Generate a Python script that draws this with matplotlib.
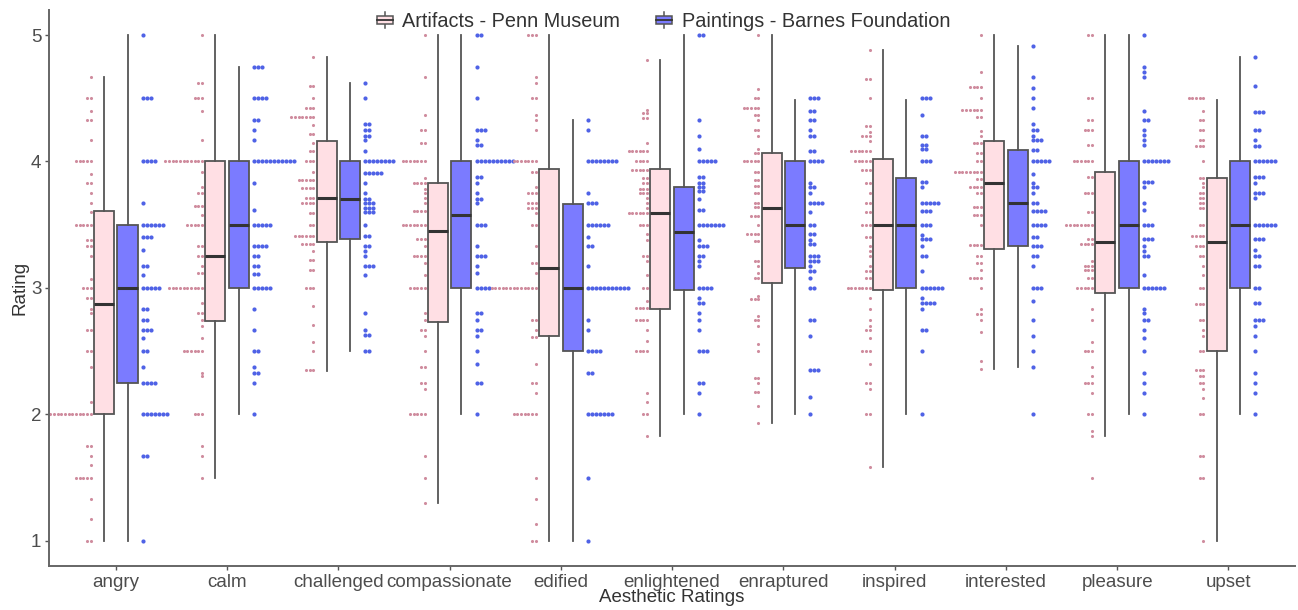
import matplotlib
matplotlib.use("Agg")
import matplotlib.pyplot as plt
from matplotlib.patches import Patch, Rectangle
from matplotlib.lines import Line2D
from matplotlib.legend_handler import HandlerBase
import numpy as np

plt.rcParams['font.family'] = ['Liberation Sans', 'DejaVu Sans']

categories = ["angry", "calm", "challenged", "compassionate", "edified", "enlightened",
              "enraptured", "inspired", "interested", "pleasure", "upset"]

# box stats: (whisker low, q1, median, q3, whisker high)
art_lo = [1.0, 1.5, 2.34, 1.30, 1.0, 1.83, 1.93, 1.58, 2.36, 1.83, 1.0]
art_q1 = [2.0, 2.74, 3.36, 2.73, 2.62, 2.83, 3.04, 2.98, 3.31, 2.96, 2.5]
art_med = [2.875, 3.25, 3.71, 3.45, 3.16, 3.59, 3.63, 3.5, 3.83, 3.36, 3.36]
art_q3 = [3.61, 4.0, 4.16, 3.83, 3.94, 3.94, 4.07, 4.02, 4.16, 3.92, 3.87]
art_hi = [4.67, 5.0, 4.83, 5.0, 5.0, 4.80, 5.0, 4.88, 5.0, 5.0, 4.49]

pnt_lo = [1.0, 2.0, 2.5, 2.0, 1.0, 2.0, 2.0, 2.0, 2.375, 2.0, 2.0]
pnt_q1 = [2.25, 3.0, 3.39, 3.0, 2.5, 2.98, 3.16, 3.0, 3.33, 3.0, 3.0]
pnt_med = [3.0, 3.5, 3.70, 3.58, 3.0, 3.44, 3.5, 3.5, 3.67, 3.5, 3.5]
pnt_q3 = [3.5, 4.0, 4.0, 4.0, 3.66, 3.80, 4.0, 3.87, 4.09, 4.0, 4.0]
pnt_hi = [5.0, 4.75, 4.62, 5.0, 4.33, 5.0, 4.49, 4.49, 4.91, 5.0, 4.83]

# dot stacks: (rating, count)
art_dots = {
    "angry": [(4.67, 1), (4.5, 2), (4.4, 1), (4.33, 2), (4.17, 1), (4.0, 5), (3.9, 1), (3.83, 2),
              (3.75, 1), (3.67, 1), (3.6, 1), (3.5, 5), (3.38, 2), (3.33, 2), (3.25, 1), (3.07, 1),
              (3.0, 3), (2.92, 2), (2.83, 1), (2.8, 1), (2.67, 2), (2.5, 2), (2.375, 1), (2.1, 1),
              (2.0, 12), (1.75, 2), (1.67, 1), (1.6, 1), (1.5, 5), (1.33, 1), (1.17, 1), (1.0, 2)],
    "calm": [(5.0, 1), (4.62, 2), (4.5, 3), (4.4, 1), (4.17, 1), (4.0, 11), (3.92, 1), (3.8, 1),
             (3.75, 2), (3.65, 3), (3.58, 1), (3.5, 5), (3.33, 2), (3.25, 2), (3.17, 1), (3.12, 2),
             (3.0, 10), (2.88, 1), (2.8, 2), (2.75, 1), (2.7, 1), (2.6, 1), (2.5, 6), (2.33, 1),
             (2.3, 1), (2.0, 3), (1.75, 1), (1.67, 1), (1.5, 1)],
    "challenged": [(4.83, 1), (4.6, 2), (4.5, 1), (4.42, 3), (4.35, 7), (4.29, 1), (4.22, 2),
                   (4.15, 1), (4.08, 2), (4.0, 3), (3.92, 1), (3.85, 5), (3.79, 4), (3.71, 3),
                   (3.67, 4), (3.59, 2), (3.5, 2), (3.41, 6), (3.35, 4), (3.29, 1), (3.22, 2),
                   (3.14, 2), (3.0, 3), (2.86, 1), (2.71, 1), (2.57, 1), (2.5, 1), (2.35, 3)],
    "compassionate": [(5.0, 1), (4.67, 1), (4.37, 1), (4.25, 2), (4.15, 2), (4.0, 7), (3.87, 1),
                      (3.83, 4), (3.78, 1), (3.75, 1), (3.71, 1), (3.67, 1), (3.61, 4), (3.5, 7),
                      (3.39, 3), (3.33, 1), (3.25, 4), (3.2, 1), (3.1, 1), (3.0, 5), (2.8, 1),
                      (2.75, 1), (2.67, 2), (2.62, 1), (2.5, 1), (2.375, 2), (2.25, 2), (2.2, 1),
                      (2.0, 5), (1.67, 1), (1.5, 1), (1.3, 1)],
    "edified": [(5.0, 3), (4.67, 1), (4.62, 1), (4.5, 2), (4.37, 1), (4.33, 1), (4.25, 1),
                (4.0, 7), (3.92, 2), (3.8, 1), (3.75, 3), (3.67, 3), (3.63, 3), (3.59, 1),
                (3.5, 2), (3.33, 1), (3.2, 2), (3.12, 1), (3.0, 13), (2.75, 2), (2.67, 1),
                (2.61, 2), (2.4, 1), (2.25, 2), (2.17, 1), (2.0, 7), (1.5, 1), (1.33, 1),
                (1.13, 1), (1.0, 2)],
    "enlightened": [(4.8, 1), (4.41, 1), (4.38, 2), (4.34, 2), (4.15, 1), (4.08, 6), (4.0, 4),
                    (3.93, 5), (3.87, 2), (3.83, 2), (3.78, 3), (3.75, 3), (3.71, 1), (3.67, 1),
                    (3.63, 1), (3.59, 6), (3.5, 3), (3.43, 1), (3.38, 1), (3.25, 2), (3.21, 1),
                    (3.1, 1), (3.0, 2), (2.9, 1), (2.84, 4), (2.75, 4), (2.67, 1), (2.58, 1),
                    (2.5, 4), (2.17, 1), (2.1, 1), (2.0, 2), (1.83, 1)],
    "enraptured": [(5.0, 1), (4.57, 1), (4.5, 2), (4.42, 5), (4.37, 2), (4.33, 1), (4.25, 2),
                   (4.2, 1), (4.1, 1), (4.07, 2), (4.0, 5), (3.92, 2), (3.85, 2), (3.81, 2),
                   (3.75, 2), (3.67, 2), (3.64, 2), (3.57, 3), (3.5, 1), (3.43, 4), (3.37, 2),
                   (3.21, 2), (3.17, 1), (3.12, 1), (3.08, 2), (2.94, 1), (2.91, 3), (2.78, 1),
                   (2.75, 2), (2.7, 1), (2.56, 1), (2.5, 1), (2.29, 2), (2.25, 1), (2.18, 2),
                   (2.07, 1), (1.93, 1)],
    "inspired": [(4.88, 1), (4.65, 2), (4.5, 1), (4.28, 2), (4.23, 1), (4.2, 3), (4.16, 1),
                 (4.08, 6), (4.0, 5), (3.93, 3), (3.83, 2), (3.75, 1), (3.67, 2), (3.6, 2),
                 (3.5, 3), (3.4, 2), (3.33, 1), (3.29, 1), (3.25, 1), (3.17, 1), (3.13, 2),
                 (3.08, 2), (3.0, 7), (2.92, 1), (2.83, 1), (2.75, 1), (2.7, 1), (2.67, 2),
                 (2.6, 1), (2.5, 3), (2.4, 1), (2.25, 2), (2.2, 1), (2.0, 2), (1.58, 1)],
    "interested": [(5.0, 1), (4.71, 1), (4.59, 4), (4.5, 1), (4.41, 6), (4.35, 2), (4.24, 1),
                   (4.2, 1), (4.15, 3), (4.07, 2), (4.0, 2), (3.92, 8), (3.86, 2), (3.8, 4),
                   (3.75, 2), (3.64, 3), (3.58, 3), (3.5, 1), (3.34, 4), (3.25, 2), (3.2, 2),
                   (3.14, 1), (3.08, 4), (3.0, 1), (2.83, 1), (2.79, 2), (2.75, 1), (2.65, 1),
                   (2.42, 1), (2.36, 1)],
    "pleasure": [(5.0, 2), (4.5, 2), (4.33, 2), (4.25, 3), (4.13, 2), (4.0, 6), (3.88, 2),
                 (3.75, 3), (3.6, 2), (3.5, 8), (3.39, 2), (3.35, 4), (3.21, 1), (3.17, 3),
                 (3.14, 3), (3.08, 2), (3.0, 5), (2.83, 1), (2.75, 1), (2.57, 1), (2.5, 3),
                 (2.375, 1), (2.3, 1), (2.25, 3), (2.17, 1), (2.0, 2), (1.87, 1), (1.83, 1),
                 (1.5, 1)],
    "upset": [(4.5, 5), (4.4, 1), (4.33, 2), (4.25, 2), (4.17, 2), (4.12, 3), (4.0, 1),
              (3.87, 2), (3.83, 1), (3.8, 1), (3.75, 2), (3.71, 2), (3.67, 2), (3.63, 2),
              (3.5, 2), (3.41, 4), (3.33, 3), (3.25, 2), (3.17, 1), (3.1, 1), (3.0, 2),
              (2.87, 3), (2.75, 2), (2.67, 1), (2.62, 1), (2.5, 2), (2.35, 3), (2.3, 2),
              (2.25, 2), (2.2, 1), (2.13, 1), (2.0, 2), (1.67, 2), (1.5, 2), (1.0, 1)],
}

pnt_dots = {
    "angry": [(5.0, 1), (4.5, 3), (4.0, 4), (3.67, 1), (3.5, 6), (3.4, 3), (3.3, 1), (3.17, 2),
              (3.1, 1), (3.0, 5), (2.83, 2), (2.75, 2), (2.67, 3), (2.6, 1), (2.5, 2),
              (2.375, 1), (2.25, 4), (2.0, 7), (1.67, 2), (1.0, 1)],
    "calm": [(4.75, 3), (4.5, 4), (4.33, 2), (4.25, 1), (4.17, 1), (4.0, 11), (3.83, 1),
             (3.62, 1), (3.5, 5), (3.33, 4), (3.25, 2), (3.17, 2), (3.11, 2), (3.0, 5),
             (2.83, 1), (2.67, 1), (2.5, 2), (2.375, 1), (2.33, 2), (2.25, 1), (2.0, 1)],
    "challenged": [(4.62, 1), (4.5, 1), (4.3, 2), (4.25, 2), (4.2, 2), (4.17, 1), (4.08, 1),
                   (4.0, 8), (3.91, 5), (3.83, 1), (3.75, 1), (3.7, 2), (3.67, 3), (3.63, 3),
                   (3.6, 3), (3.5, 1), (3.41, 2), (3.33, 2), (3.29, 1), (3.25, 1), (3.17, 3),
                   (3.1, 1), (2.8, 1), (2.67, 1), (2.63, 2), (2.5, 2)],
    "compassionate": [(5.0, 2), (4.75, 1), (4.5, 1), (4.25, 3), (4.17, 1), (4.13, 2), (4.0, 10),
                      (3.88, 2), (3.83, 1), (3.75, 1), (3.7, 2), (3.67, 1), (3.5, 3), (3.33, 1),
                      (3.25, 3), (3.17, 1), (3.12, 1), (3.0, 4), (2.8, 2), (2.75, 1), (2.67, 2),
                      (2.62, 1), (2.5, 1), (2.4, 1), (2.25, 2), (2.0, 1)],
    "edified": [(4.33, 1), (4.25, 1), (4.0, 8), (3.75, 1), (3.67, 3), (3.5, 6), (3.4, 1),
                (3.33, 2), (3.17, 1), (3.0, 11), (2.75, 1), (2.67, 1), (2.5, 4), (2.33, 2),
                (2.0, 7), (1.5, 1), (1.0, 1)],
    "enlightened": [(5.0, 2), (4.33, 1), (4.2, 1), (4.1, 1), (4.0, 5), (3.88, 2), (3.83, 2),
                    (3.8, 2), (3.77, 2), (3.7, 1), (3.62, 2), (3.5, 7), (3.38, 1), (3.33, 3),
                    (3.25, 2), (3.21, 1), (3.17, 1), (3.0, 4), (2.92, 1), (2.88, 2), (2.8, 1),
                    (2.75, 1), (2.67, 1), (2.5, 3), (2.25, 2), (2.17, 1), (2.0, 1)],
    "enraptured": [(4.5, 3), (4.4, 2), (4.33, 2), (4.25, 1), (4.2, 2), (4.08, 2), (4.0, 4),
                   (3.83, 1), (3.8, 2), (3.75, 1), (3.67, 4), (3.6, 1), (3.5, 2), (3.43, 2),
                   (3.38, 1), (3.35, 2), (3.25, 3), (3.21, 3), (3.17, 1), (3.13, 2), (3.08, 1),
                   (3.0, 2), (2.75, 2), (2.62, 1), (2.35, 3), (2.14, 1), (2.0, 1)],
    "inspired": [(4.5, 3), (4.37, 1), (4.2, 2), (4.13, 2), (4.1, 2), (4.0, 3), (3.84, 2),
                 (3.8, 1), (3.67, 5), (3.61, 3), (3.5, 3), (3.42, 1), (3.39, 3), (3.33, 1),
                 (3.25, 2), (3.13, 1), (3.0, 6), (2.92, 1), (2.88, 4), (2.83, 1), (2.67, 2),
                 (2.5, 1), (2.0, 1)],
    "interested": [(4.91, 1), (4.67, 1), (4.58, 1), (4.5, 1), (4.42, 1), (4.3, 1), (4.25, 2),
                   (4.2, 1), (4.17, 3), (4.09, 2), (4.0, 5), (3.9, 1), (3.83, 1), (3.8, 2),
                   (3.75, 1), (3.67, 2), (3.61, 4), (3.5, 4), (3.4, 2), (3.33, 3), (3.25, 2),
                   (3.17, 1), (3.0, 3), (2.9, 1), (2.75, 1), (2.62, 1), (2.5, 1), (2.375, 1),
                   (2.0, 1)],
    "pleasure": [(5.0, 1), (4.75, 1), (4.71, 1), (4.67, 1), (4.4, 1), (4.33, 2), (4.25, 1),
                 (4.21, 1), (4.17, 1), (4.13, 1), (4.0, 7), (3.84, 3), (3.8, 1), (3.67, 1),
                 (3.62, 1), (3.5, 3), (3.39, 3), (3.33, 1), (3.29, 1), (3.25, 2), (3.1, 1),
                 (3.0, 6), (2.83, 1), (2.8, 1), (2.75, 2), (2.67, 1), (2.6, 1), (2.5, 1),
                 (2.33, 1), (2.25, 1), (2.17, 1), (2.0, 1)],
    "upset": [(4.83, 1), (4.6, 1), (4.39, 3), (4.25, 2), (4.17, 1), (4.12, 2), (4.0, 6),
              (3.88, 3), (3.83, 1), (3.75, 3), (3.71, 1), (3.5, 6), (3.39, 3), (3.3, 1),
              (3.25, 2), (3.17, 2), (3.0, 2), (2.88, 2), (2.75, 3), (2.7, 1), (2.62, 1),
              (2.5, 1), (2.33, 1), (2.25, 1), (2.17, 1), (2.0, 1)],
}

art_fill = "#ffdfe4"
pnt_fill = "#7b7bff"
art_dot = "#cf8c9e"
pnt_dot = "#4f62e6"
edge = "#555555"


class BoxKey(HandlerBase):
    # small boxplot glyph for the legend key
    def create_artists(self, legend, orig_handle, xdescent, ydescent, width, height,
                       fontsize, trans):
        cx = width / 2 - xdescent
        cy = height / 2 - ydescent
        bw, bh = width * 0.95, height * 0.55
        whisk = Line2D([cx, cx], [cy - height * 0.5, cy + height * 0.5],
                       color=edge, linewidth=1.1, transform=trans)
        box = Rectangle((cx - bw / 2, cy - bh / 2), bw, bh, facecolor=orig_handle.get_facecolor(),
                        edgecolor=edge, linewidth=1.1, transform=trans)
        med = Line2D([cx - bw / 2, cx + bw / 2], [cy, cy], color="#333333",
                     linewidth=1.3, transform=trans)
        return [whisk, box, med]


fig = plt.figure(figsize=(12.98, 6.10), dpi=100)
ax = fig.add_axes([0.0378, 0.072, 0.960, 0.912])

pos = np.arange(1, len(categories) + 1)


def stats(lo, q1, med, q3, hi):
    return [dict(whislo=a, q1=b, med=c, q3=d, whishi=e, fliers=[])
            for a, b, c, d, e in zip(lo, q1, med, q3, hi)]


for st, off, fill in [(stats(art_lo, art_q1, art_med, art_q3, art_hi), -0.105, art_fill),
                      (stats(pnt_lo, pnt_q1, pnt_med, pnt_q3, pnt_hi), 0.105, pnt_fill)]:
    ax.bxp(st, positions=pos + off, widths=0.18, showcaps=False, showfliers=False,
           patch_artist=True,
           boxprops=dict(facecolor=fill, edgecolor=edge, linewidth=1.3),
           whiskerprops=dict(color=edge, linewidth=1.3),
           medianprops=dict(color="#333333", linewidth=2.2), zorder=3)

# dot stacks: artifacts stacked leftwards, paintings rightwards
for i, cat in enumerate(categories):
    xs, ys = [], []
    for val, n in art_dots[cat]:
        for k in range(n):
            xs.append(pos[i] - 0.225 - k * 0.033)
            ys.append(val)
    ax.scatter(xs, ys, s=5, color=art_dot, linewidths=0, zorder=2)
    xs, ys = [], []
    for val, n in pnt_dots[cat]:
        for k in range(n):
            xs.append(pos[i] + 0.243 + k * 0.036)
            ys.append(val)
    ax.scatter(xs, ys, s=9, color=pnt_dot, linewidths=0, zorder=2)

ax.set_xlim(0.4, 11.6)
ax.set_ylim(0.8, 5.2)
ax.set_xticks(pos)
ax.set_xticklabels(categories)
ax.set_yticks([1, 2, 3, 4, 5])
ax.tick_params(axis="both", labelsize=13.5, colors="#555555", length=3, width=1,
               labelcolor="#4d4d4d", pad=2.5)
for s in ["top", "right"]:
    ax.spines[s].set_visible(False)
for s in ["left", "bottom"]:
    ax.spines[s].set_color("#666666")
    ax.spines[s].set_linewidth(1.4)
ax.set_xlabel("Aesthetic Ratings", fontsize=13.5, color="#333333", labelpad=-1)
ax.set_ylabel("Rating", fontsize=13.5, color="#333333", labelpad=2)

handles = [Patch(facecolor=art_fill, edgecolor=edge), Patch(facecolor=pnt_fill, edgecolor=edge)]
fig.legend(handles, ["Artifacts - Penn Museum", "Paintings - Barnes Foundation"],
           loc="center", bbox_to_anchor=(0.511, 0.965), ncol=2, frameon=False,
           fontsize=14.3, handlelength=0.85, handleheight=0.8, handletextpad=0.45,
           columnspacing=1.8, labelcolor="#333333",
           handler_map={Patch: BoxKey()})

fig.savefig("out.png", dpi=100)
